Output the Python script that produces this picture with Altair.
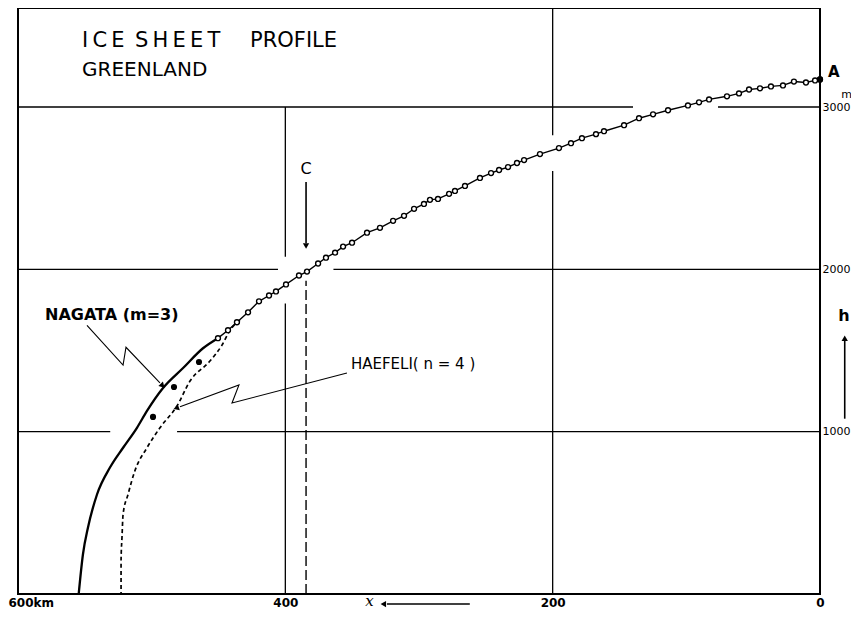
import altair as alt
import pandas as pd

# ---------------- data ----------------
# observed surface profile (open circles), x in km from A, h in m
obs_km = [0, 3.7, 10.5, 19.5, 27.7, 36.7, 44.9, 53.1, 60.6, 69.6, 83.0, 90.5, 98.8,
          113.7, 124.9, 135.4, 146.6, 161.6, 167.6, 178.1, 186.3, 195.3, 209.5, 221.4,
          226.7, 233.4, 240.1, 246.1, 254.4, 265.6, 273.1, 277.5, 285.8, 291.8, 296.3,
          303.7, 311.2, 319.4, 329.2, 338.9, 350.1, 356.8, 362.8, 369.6, 375.5, 383.8,
          389.8, 399.5, 407.0, 412.2, 419.7, 427.9, 436.2, 442.9, 450.4]
obs_h = [3170, 3164, 3151, 3157, 3133, 3127, 3115, 3108, 3084, 3066, 3047, 3029, 3010,
         2980, 2955, 2931, 2888, 2851, 2833, 2808, 2777, 2747, 2710, 2673,
         2655, 2630, 2612, 2593, 2563, 2514, 2483, 2465, 2434, 2428, 2403,
         2373, 2330, 2299, 2256, 2226, 2164, 2140, 2103, 2072, 2036, 1986,
         1962, 1907, 1864, 1839, 1803, 1735, 1674, 1625, 1576]

# Nagata (m=3) solid curve
nagata_km = [450.4, 461.6, 476.5, 491.5, 503.5, 511.0, 521.4, 531.2, 540.9, 547.6, 551.4, 554.6]
nagata_h = [1576, 1514, 1392, 1269, 1128, 1024, 901, 779, 613, 411, 245, 0]

# Haefeli (n=4) dotted curve
haefeli_km = [433.9, 441.4, 447.4, 456.4, 471.3, 481.0, 493.8, 503.5, 512.5, 517.7,
              521.4, 522.2, 522.9, 522.9]
haefeli_h = [1686, 1625, 1533, 1435, 1312, 1159, 1024, 901, 760, 613, 490, 349, 208, 0]

# large filled dots (and the summit point A)
dots_km = [464.6, 483.3, 499.0, 0]
dots_h = [1429, 1275, 1091, 3170]

# grid segments (drafted with gaps where curves cross)
hgrid_h = [3000, 3000, 2000, 2000, 1000, 1000]
hgrid_from = [600, 76.3, 600, 364, 600, 481]
hgrid_to = [139.9, 0, 405.5, 0, 531, 0]
vgrid_km = [400, 400, 200, 200]
vgrid_from = [3000, 1790, 3610, 2606]
vgrid_to = [2078, 0, 2826, 0]

# C marker (dashed)
c_km = [384.5]
c_from = [0]
c_to = [1930]

# leader lines (lightning style)
nag_lead_km = [548.4, 521.4, 519.2, 493.8]
nag_lead_h = [1655, 1410, 1520, 1300]
hae_lead_km = [353.9, 439.9, 434.7, 478.8]
hae_lead_h = [1361, 1177, 1288, 1153]

# arrows: shafts and heads
shaft_km = [384.5, -18.5, 324]
shaft_km2 = [384.5, -18.5, 262]
shaft_h = [2538, 1080, -62]
shaft_h2 = [2160, 1560, -62]
head_km = [384.5, -18.5, 326, 492.3, 481.0]
head_h = [2150, 1570, -62, 1287, 1147]
head_angle = [180, 0, 270, 136, 250]

# texts
title_km = [552.1, 512.5, 426.4]
title_h = [3409, 3409, 3409]
title_txt = ["I\u2009C\u2009E", "S\u2009H\u2009E\u2009E\u2009T", "PROFILE"]

x_ticks = [600, 400, 200, 0]
y_ticks = [1000, 2000, 3000]

# ---------------- chart ----------------
xs = alt.Scale(domain=[600, 0], nice=False, zero=False)
ys = alt.Scale(domain=[0, 3610], nice=False, zero=False)

x_axis = alt.Axis(
    values=x_ticks, title=None, grid=False, ticks=False, domain=False,
    labelExpr="datum.value == 600 ? '600km' : datum.label",
    labelFont="DejaVu Sans", labelFontSize=12, labelFontWeight="bold",
    labelColor="black", labelPadding=3,
    labelAlign={"condition": {"test": "datum.value == 600", "value": "left"}, "value": "center"},
    labelOffset={"condition": {"test": "datum.value == 600", "value": -10}, "value": 0},
)
y_axis = alt.Axis(
    values=y_ticks, title=None, grid=False, ticks=False, domain=False, orient="right",
    format="d",
    labelFont="DejaVu Sans", labelFontSize=11, labelColor="black", labelPadding=2,
    labelAlign="left", labelBaseline="middle",
)


def X(f="km"):
    return alt.X(f"{f}:Q", scale=xs, axis=x_axis)


def Y(f="h"):
    return alt.Y(f"{f}:Q", scale=ys, axis=y_axis)


obs = pd.DataFrame({"km": obs_km, "h": obs_h, "i": range(len(obs_km))})
nag = pd.DataFrame({"km": nagata_km, "h": nagata_h, "i": range(len(nagata_km))})
hae = pd.DataFrame({"km": haefeli_km, "h": haefeli_h, "i": range(len(haefeli_km))})
dots = pd.DataFrame({"km": dots_km, "h": dots_h})
hg = pd.DataFrame({"h": hgrid_h, "km": hgrid_from, "km2": hgrid_to})
vg = pd.DataFrame({"km": vgrid_km, "h": vgrid_from, "h2": vgrid_to})
cl = pd.DataFrame({"km": c_km, "h": c_from, "h2": c_to})
nl = pd.DataFrame({"km": nag_lead_km, "h": nag_lead_h, "i": range(4)})
hl = pd.DataFrame({"km": hae_lead_km, "h": hae_lead_h, "i": range(4)})
sh = pd.DataFrame({"km": shaft_km, "km2": shaft_km2, "h": shaft_h, "h2": shaft_h2})
hd = pd.DataFrame({"km": head_km, "h": head_h, "a": head_angle})
tt = pd.DataFrame({"km": title_km, "h": title_h, "t": title_txt})

layers = []
layers.append(alt.Chart(hg).mark_rule(color="black", strokeWidth=1.3).encode(
    x=X(), x2="km2:Q", y=Y()))
layers.append(alt.Chart(vg).mark_rule(color="black", strokeWidth=1.3).encode(
    x=X(), y=Y(), y2="h2:Q"))
layers.append(alt.Chart(cl).mark_rule(color="black", strokeWidth=1.4, strokeDash=[10, 4]).encode(
    x=X(), y=Y(), y2="h2:Q"))
layers.append(alt.Chart(obs).mark_line(color="black", strokeWidth=1.4).encode(
    x=X(), y=Y(), order="i:Q"))
layers.append(alt.Chart(nag).mark_line(color="black", strokeWidth=2.3, interpolate="monotone").encode(
    x=X(), y=Y(), order="i:Q"))
layers.append(alt.Chart(hae).mark_line(color="black", strokeWidth=1.7, strokeDash=[4, 3],
                                       interpolate="monotone").encode(
    x=X(), y=Y(), order="i:Q"))
layers.append(alt.Chart(obs).mark_point(shape="circle", size=24, filled=True, fill="white",
                                        stroke="black", strokeWidth=1.4, opacity=1).encode(
    x=X(), y=Y()))
layers.append(alt.Chart(dots).mark_point(shape="circle", size=38, filled=True, color="black",
                                         opacity=1).encode(x=X(), y=Y()))
layers.append(alt.Chart(nl).mark_line(color="black", strokeWidth=1.1).encode(
    x=X(), y=Y(), order="i:Q"))
layers.append(alt.Chart(hl).mark_line(color="black", strokeWidth=1.1).encode(
    x=X(), y=Y(), order="i:Q"))
layers.append(alt.Chart(sh).mark_rule(color="black", strokeWidth=1.6).encode(
    x=X(), x2="km2:Q", y=Y(), y2="h2:Q"))
layers.append(alt.Chart(hd).mark_point(shape="triangle", size=40, filled=True, color="black",
                                       opacity=1).encode(
    x=X(), y=Y(), angle=alt.Angle("a:Q", scale=None)))

# titles
layers.append(alt.Chart(tt).mark_text(align="left", baseline="middle", font="DejaVu Sans",
                                      fontSize=21, color="black").encode(
    x=X(), y=Y(), text="t:N"))


# annotation labels
def label(km, h, txt, **kw):
    df = pd.DataFrame({"km": [km], "h": [h], "t": [txt]})
    base = dict(baseline="middle", font="DejaVu Sans", color="black")
    base.update(kw)
    return alt.Chart(df).mark_text(**base).encode(x=X(), y=Y(), text="t:N")


layers.append(label(552.1, 3225, "GREENLAND", align="left", fontSize=20))
layers.append(label(579.8, 1717, "NAGATA (m=3)", align="left", fontSize=16, fontWeight="bold"))
layers.append(label(350.9, 1416, "HAEFELI( n = 4 )", align="left", fontSize=15))
layers.append(label(384.5, 2618, "C", align="center", fontSize=16))
layers.append(label(-6.0, 3213, "A", align="left", fontSize=15, fontWeight="bold"))
layers.append(label(-18.0, 1711, "h", align="center", fontSize=16, fontWeight="bold"))
layers.append(label(-20.0, 3072, "m", align="center", fontSize=11))
layers.append(label(337.0, -45, "x", align="center", fontSize=15, font="DejaVu Serif",
                    fontStyle="italic"))

chart = alt.layer(*layers).properties(
    width=802, height=586,
    padding={"left": 10, "top": 0, "right": 31, "bottom": 18},
    autosize=alt.AutoSizeParams(type="none"),
    background="white",
).configure_view(stroke="black", strokeWidth=2)

chart.save("out.html", embed_options={"renderer": "svg", "actions": False})
